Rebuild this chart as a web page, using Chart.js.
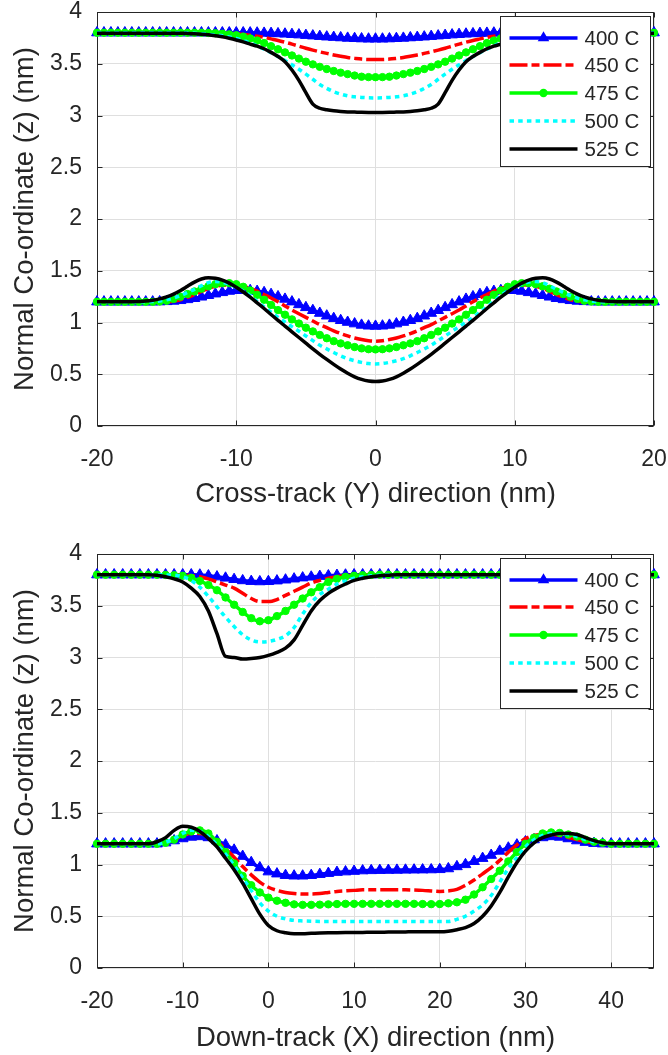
<!DOCTYPE html>
<html><head><meta charset="utf-8">
<script src="https://cdn.jsdelivr.net/npm/chart.js@4.4.0/dist/chart.umd.min.js"></script>
<style>
html,body{margin:0;padding:0;background:#fff;width:668px;height:1055px;overflow:hidden;}
canvas{position:absolute;left:0;display:block;}
#c1{top:0;}
#c2{top:511px;}
</style></head><body>
<canvas id="c1" width="668" height="511"></canvas>
<canvas id="c2" width="668" height="544"></canvas>
<script>
// ---------- DATA ----------
const labels = ['400 C','450 C','475 C','500 C','525 C'];
const yTicks = [0,0.5,1,1.5,2,2.5,3,3.5,4];
const crossTicks = [-20,-10,0,10,20];
const downTicks = [-20,-10,0,10,20,30,40];

// Cross-track (Y) positions, nm
const crossX = [-20,-19.5,-19,-18.5,-18,-17.5,-17,-16.5,-16,-15.5,-15,-14.5,-14,-13.5,-13,-12.5,-12,-11.5,-11,-10.5,-10,-9.5,-9,-8.5,-8,-7.5,-7,-6.5,-6,-5.5,-5,-4.5,-4,-3.5,-3,-2.5,-2,-1.5,-1,-0.5,0,0.5,1,1.5,2,2.5,3,3.5,4,4.5,5,5.5,6,6.5,7,7.5,8,8.5,9,9.5,10,10.5,11,11.5,12,12.5,13,13.5,14,14.5,15,15.5,16,16.5,17,17.5,18,18.5,19,19.5,20];

// upper surface, cross-track
const cross400U = [3.8,3.8,3.8,3.8,3.8,3.8,3.8,3.8,3.8,3.8,3.8,3.8,3.8,3.8,3.8,3.8,3.8,3.8,3.8,3.8,3.8,3.8,
3.799,3.798,3.796,3.794,3.791,3.788,3.784,3.78,3.775,3.77,3.765,3.76,3.756,3.752,3.748,3.745,3.742,3.74,
3.74,3.74,3.742,3.745,3.748,3.752,3.756,3.76,3.765,3.77,3.775,3.78,3.784,3.788,3.791,3.794,3.796,3.798,3.799,
3.8,3.8,3.8,3.8,3.8,3.8,3.8,3.8,3.8,3.8,3.8,3.8,3.8,3.8,3.8,3.8,3.8,3.8,3.8,3.8,3.8,3.8];
const cross450U = [3.8,3.8,3.8,3.8,3.8,3.8,3.8,3.8,3.8,3.8,3.8,3.8,3.8,3.8,3.8,3.8,3.8,3.8,
3.798,3.795,3.79,3.783,3.775,3.766,3.755,3.74,3.725,3.708,3.69,3.67,3.65,3.632,3.615,3.6,3.585,3.572,3.56,3.552,3.545,3.541,
3.54,3.541,3.545,3.552,3.56,3.572,3.585,3.6,3.615,3.632,3.65,3.67,3.69,3.708,3.725,3.74,3.755,3.766,3.775,3.783,3.79,3.795,3.798,
3.8,3.8,3.8,3.8,3.8,3.8,3.8,3.8,3.8,3.8,3.8,3.8,3.8,3.8,3.8,3.8,3.8,3.8];
const cross475U = [3.8,3.8,3.8,3.8,3.8,3.8,3.8,3.8,3.8,3.8,3.8,3.8,3.8,3.8,3.8,3.8,
3.798,3.795,3.79,3.784,3.775,3.762,3.745,3.724,3.70,3.67,3.64,3.61,3.58,3.55,3.52,3.494,3.47,3.449,3.43,3.414,3.4,3.386,3.375,3.371,
3.37,3.371,3.375,3.386,3.4,3.414,3.43,3.449,3.47,3.494,3.52,3.55,3.58,3.61,3.64,3.67,3.70,3.724,3.745,3.762,3.775,3.784,3.79,3.795,3.798,
3.8,3.8,3.8,3.8,3.8,3.8,3.8,3.8,3.8,3.8,3.8,3.8,3.8,3.8,3.8,3.8];
const cross500U = [3.8,3.8,3.8,3.8,3.8,3.8,3.8,3.8,3.8,3.8,3.8,3.8,3.8,
3.798,3.795,3.79,3.785,3.778,3.77,3.758,3.745,3.724,3.70,3.672,3.64,3.607,3.57,3.532,3.49,3.447,3.40,3.35,3.30,3.262,3.23,3.207,3.19,3.181,3.175,3.171,
3.17,3.171,3.175,3.181,3.19,3.207,3.23,3.262,3.30,3.35,3.40,3.447,3.49,3.532,3.57,3.607,3.64,3.672,3.70,3.724,3.745,3.758,3.77,3.778,3.785,3.79,3.795,3.798,
3.8,3.8,3.8,3.8,3.8,3.8,3.8,3.8,3.8,3.8,3.8,3.8,3.8];
const cross525U = [3.795,3.795,3.795,3.795,3.795,3.795,3.795,3.795,3.795,3.795,3.795,3.795,3.795,
3.793,3.79,3.786,3.78,3.771,3.76,3.746,3.73,3.712,3.69,3.67,3.645,3.61,3.57,3.52,3.44,3.34,3.22,3.11,3.07,3.055,3.045,3.039,3.035,3.033,3.031,3.03,
3.03,3.03,3.031,3.033,3.035,3.039,3.045,3.055,3.07,3.11,3.22,3.34,3.44,3.52,3.57,3.61,3.645,3.67,3.69,3.712,3.73,3.746,3.76,3.771,3.78,3.786,3.79,3.793,
3.795,3.795,3.795,3.795,3.795,3.795,3.795,3.795,3.795,3.795,3.795,3.795,3.795];

// lower surface, cross-track
const cross400L = [1.2,1.2,1.2,1.2,1.2,1.2,1.2,1.2,1.2,
1.201,1.203,1.207,1.213,1.222,1.233,1.247,1.262,1.277,1.29,1.303,1.31,1.313,1.31,1.302,1.29,1.272,1.25,1.226,1.20,1.173,1.145,1.117,1.09,1.064,1.04,1.02,1.003,0.988,0.975,0.967,
0.965,0.967,0.975,0.988,1.003,1.02,1.04,1.064,1.09,1.117,1.145,1.173,1.20,1.226,1.25,1.272,1.29,1.302,1.31,1.313,1.31,1.303,1.29,1.277,1.262,1.247,1.233,1.222,1.213,1.207,1.203,1.201,
1.2,1.2,1.2,1.2,1.2,1.2,1.2,1.2,1.2];
const cross450L = [1.2,1.2,1.2,1.2,1.2,1.2,1.2,1.2,1.2,1.2,1.2,
1.207,1.22,1.243,1.27,1.30,1.33,1.35,1.36,1.364,1.36,1.348,1.33,1.303,1.27,1.237,1.20,1.16,1.12,1.085,1.05,1.015,0.98,0.95,0.92,0.893,0.87,0.85,0.835,0.824,
0.82,0.824,0.835,0.85,0.87,0.893,0.92,0.95,0.98,1.015,1.05,1.085,1.12,1.16,1.20,1.237,1.27,1.303,1.33,1.348,1.36,1.364,1.36,1.35,1.33,1.30,1.27,1.243,1.22,1.207,
1.2,1.2,1.2,1.2,1.2,1.2,1.2,1.2,1.2,1.2,1.2];
const cross475L = [1.2,1.2,1.2,1.2,1.2,1.2,1.2,1.2,1.2,
1.203,1.21,1.228,1.25,1.275,1.30,1.327,1.35,1.37,1.38,1.38,1.37,1.345,1.31,1.267,1.22,1.17,1.12,1.075,1.03,0.99,0.95,0.914,0.88,0.848,0.82,0.798,0.78,0.763,0.75,0.742,
0.74,0.742,0.75,0.763,0.78,0.798,0.82,0.848,0.88,0.914,0.95,0.99,1.03,1.075,1.12,1.17,1.22,1.267,1.31,1.345,1.37,1.38,1.38,1.37,1.35,1.327,1.30,1.275,1.25,1.228,1.21,1.203,
1.2,1.2,1.2,1.2,1.2,1.2,1.2,1.2,1.2];
const cross500L = [1.2,1.2,1.2,1.2,1.2,1.2,1.2,1.2,
1.202,1.208,1.22,1.237,1.26,1.29,1.32,1.355,1.385,1.395,1.39,1.37,1.34,1.303,1.26,1.205,1.15,1.10,1.05,1.005,0.96,0.915,0.87,0.825,0.78,0.745,0.71,0.678,0.65,0.63,0.615,0.604,
0.60,0.604,0.615,0.63,0.65,0.678,0.71,0.745,0.78,0.825,0.87,0.915,0.96,1.005,1.05,1.10,1.15,1.205,1.26,1.303,1.34,1.37,1.39,1.395,1.385,1.355,1.32,1.29,1.26,1.237,1.22,1.208,1.202,
1.2,1.2,1.2,1.2,1.2,1.2,1.2,1.2];
const cross525L = [1.2,1.2,1.2,1.2,1.2,1.2,
1.203,1.207,1.215,1.228,1.248,1.275,1.31,1.35,1.39,1.42,1.432,1.427,1.41,1.38,1.34,1.295,1.245,1.19,1.135,1.077,1.02,0.965,0.91,0.855,0.80,0.745,0.693,0.643,0.595,0.55,0.51,0.475,0.45,0.435,
0.43,0.435,0.45,0.475,0.51,0.55,0.595,0.643,0.693,0.745,0.80,0.855,0.91,0.965,1.02,1.077,1.135,1.19,1.245,1.295,1.34,1.38,1.41,1.427,1.432,1.42,1.39,1.35,1.31,1.275,1.248,1.228,1.215,1.207,1.203,
1.2,1.2,1.2,1.2,1.2,1.2];

// Down-track (X) positions, nm
const downX = [-20,-19,-18,-17,-16,-15,-14,-13,-12,-11,-10,-9,-8,-7,-6,-5,-4,-3,-2,-1,0,1,2,3,4,5,6,7,8,9,10,11,12,13,14,15,16,17,18,19,20,21,22,23,24,25,26,27,28,29,30,31,32,33,34,35,36,37,38,39,40,41,42,43,44,45];

const down400U = [3.8,3.8,3.8,3.8,3.8,3.8,3.8,3.8,3.8,3.8,3.8,3.8,
3.798,3.79,3.78,3.768,3.755,3.743,3.736,3.733,3.735,3.741,3.75,3.76,3.77,3.778,3.785,3.79,3.795,3.798,
3.8,3.8,3.8,3.8,3.8,3.8,3.8,3.8,3.8,3.8,3.8,3.8,3.8,3.8,3.8,3.8,3.8,3.8,3.8,3.8,3.8,3.8,3.8,3.8,3.8,3.8,3.8,3.8,3.8,3.8,3.8,3.8,3.8,3.8,3.8,3.8];
const down450U = [3.8,3.8,3.8,3.8,3.8,3.8,3.8,3.8,3.8,3.8,
3.798,3.79,3.78,3.76,3.73,3.70,3.67,3.62,3.57,3.54,3.54,3.56,3.60,3.64,3.68,3.72,3.745,3.765,3.78,3.79,3.795,3.798,
3.8,3.8,3.8,3.8,3.8,3.8,3.8,3.8,3.8,3.8,3.8,3.8,3.8,3.8,3.8,3.8,3.8,3.8,3.8,3.8,3.8,3.8,3.8,3.8,3.8,3.8,3.8,3.8,3.8,3.8,3.8,3.8,3.8,3.8];
const down475U = [3.8,3.8,3.8,3.8,3.8,3.8,3.8,3.8,
3.798,3.795,3.79,3.77,3.74,3.70,3.65,3.58,3.51,3.44,3.38,3.35,3.36,3.40,3.45,3.51,3.57,3.63,3.68,3.73,3.76,3.78,3.79,3.795,3.798,
3.8,3.8,3.8,3.8,3.8,3.8,3.8,3.8,3.8,3.8,3.8,3.8,3.8,3.8,3.8,3.8,3.8,3.8,3.8,3.8,3.8,3.8,3.8,3.8,3.8,3.8,3.8,3.8,3.8,3.8,3.8,3.8,3.8];
const down500U = [3.8,3.8,3.8,3.8,3.8,3.8,3.8,3.8,
3.798,3.795,3.78,3.745,3.68,3.59,3.49,3.39,3.30,3.22,3.17,3.15,3.155,3.175,3.21,3.29,3.42,3.53,3.61,3.66,3.71,3.74,3.765,3.78,3.79,3.795,
3.8,3.8,3.8,3.8,3.8,3.8,3.8,3.8,3.8,3.8,3.8,3.8,3.8,3.8,3.8,3.8,3.8,3.8,3.8,3.8,3.8,3.8,3.8,3.8,3.8,3.8,3.8,3.8,3.8,3.8,3.8,3.8];
const down525U = [3.8,3.8,3.8,3.8,3.8,3.8,3.8,
3.795,3.78,3.76,3.73,3.67,3.59,3.45,3.23,3.01,3.0,2.985,2.99,3.0,3.02,3.05,3.09,3.17,3.31,3.45,3.55,3.62,3.67,3.71,3.745,3.765,3.78,3.79,3.795,
3.8,3.8,3.8,3.8,3.8,3.8,3.8,3.8,3.8,3.8,3.8,3.8,3.8,3.8,3.8,3.8,3.8,3.8,3.8,3.8,3.8,3.8,3.8,3.8,3.8,3.8,3.8,3.8,3.8,3.8,3.8];

const down400L = [1.2,1.2,1.2,1.2,1.2,1.2,1.2,1.2,
1.21,1.23,1.25,1.265,1.27,1.26,1.23,1.19,1.14,1.08,1.02,0.97,
0.93,0.91,0.895,0.89,0.89,0.895,0.905,0.915,0.925,0.93,0.935,0.94,0.942,0.944,0.945,0.946,0.947,0.948,0.949,0.95,0.952,
0.96,0.98,1.0,1.03,1.06,1.09,1.13,1.16,1.19,1.22,1.24,1.26,1.27,1.265,1.25,1.23,1.215,1.205,
1.2,1.2,1.2,1.2,1.2,1.2,1.2];
const down450L = [1.2,1.2,1.2,1.2,1.2,1.2,1.2,1.2,
1.21,1.24,1.28,1.30,1.30,1.28,1.22,1.15,1.07,0.98,0.90,0.83,
0.78,0.75,0.73,0.72,0.715,0.715,0.72,0.73,0.74,0.745,0.75,0.755,0.755,0.755,0.755,0.755,0.755,0.753,0.75,0.745,0.74,
0.745,0.76,0.80,0.85,0.91,0.97,1.04,1.12,1.19,1.25,1.28,1.29,1.29,1.28,1.26,1.24,1.22,1.21,
1.2,1.2,1.2,1.2,1.2,1.2,1.2];
const down475L = [1.2,1.2,1.2,1.2,1.2,1.2,1.2,1.2,
1.21,1.24,1.29,1.32,1.33,1.30,1.22,1.12,1.01,0.89,0.80,0.73,
0.68,0.65,0.63,0.615,0.61,0.61,0.612,0.615,0.618,0.62,0.62,0.62,0.62,0.62,0.62,0.62,0.62,0.62,0.618,0.617,0.618,
0.625,0.635,0.66,0.71,0.78,0.86,0.94,1.03,1.12,1.20,1.26,1.30,1.31,1.305,1.29,1.27,1.24,1.22,1.21,
1.2,1.2,1.2,1.2,1.2,1.2];
const down500L = [1.2,1.2,1.2,1.2,1.2,1.2,1.2,1.2,
1.215,1.25,1.30,1.33,1.32,1.27,1.19,1.10,0.99,0.87,0.75,0.63,
0.55,0.50,0.475,0.46,0.455,0.452,0.45,0.45,0.45,0.45,0.45,0.45,0.45,0.45,0.45,0.45,0.45,0.45,0.45,0.45,0.45,0.45,
0.47,0.50,0.55,0.61,0.70,0.83,0.96,1.07,1.17,1.24,1.28,1.30,1.30,1.29,1.27,1.24,1.22,1.21,
1.2,1.2,1.2,1.2,1.2,1.2];
const down525L = [1.2,1.2,1.2,1.2,1.2,1.2,1.2,
1.22,1.26,1.33,1.37,1.36,1.32,1.25,1.17,1.06,0.95,0.82,0.67,0.52,
0.41,0.36,0.34,0.33,0.33,0.335,0.338,0.34,0.341,0.342,0.343,0.344,0.345,0.346,0.347,0.348,0.349,0.35,0.35,0.35,0.35,
0.355,0.37,0.39,0.43,0.50,0.60,0.73,0.88,1.02,1.13,1.21,1.26,1.285,1.30,1.30,1.29,1.26,1.23,1.21,
1.2,1.2,1.2,1.2,1.2,1.2];

// ---------- STYLE ----------
const FONT = "'Liberation Sans', Arial, Helvetica, sans-serif";
const INK = '#262626';
const GRID = '#dfdfdf';
const LW = 3.5;
const seriesStyle = [
  {color:'#0000ff', dash:[],        point:'triangle', r:6.2},
  {color:'#ff0000', dash:[18,4,8,4], point:null, r:0},
  {color:'#00ff00', dash:[],        point:'circle', r:3.7},
  {color:'#00ffff', dash:[4.5,4.2], point:null, r:0},
  {color:'#000000', dash:[],        point:null, r:0}
];

function pts(xs, ys){ return xs.map((x,i)=>({x:x, y:ys[i]})); }

function buildDatasets(xs, uppers, lowers){
  const ds = [];
  for (let k=0;k<5;k++){
    const s = seriesStyle[k];
    [uppers[k], lowers[k]].forEach(arr=>{
      ds.push({
        label: labels[k],
        data: pts(xs, arr),
        borderColor: s.color,
        backgroundColor: s.color,
        borderWidth: LW,
        borderDash: s.dash,
        borderCapStyle: 'butt',
        borderJoinStyle: 'round',
        pointStyle: s.point || 'circle',
        pointRadius: s.point ? s.r : 0,
        pointBorderWidth: 1,
        pointBackgroundColor: s.color,
        pointBorderColor: s.color,
        cubicInterpolationMode: 'monotone',
        fill: false,
        clip: false,
        order: 5 - k
      });
    });
  }
  return ds;
}

const framePlugin = {
  id: 'frame',
  beforeDatasetsDraw(chart){
    const {ctx, chartArea:a, scales} = chart;
    const L = Math.round(a.left)+0.5, R = Math.round(a.right)-0.5;
    const T = Math.round(a.top)+0.5, B = Math.round(a.bottom)-0.5;
    ctx.save();
    ctx.strokeStyle = INK; ctx.lineWidth = 1; ctx.setLineDash([]);
    ctx.strokeRect(L, T, R-L, B-T);
    ctx.beginPath();
    scales.x.ticks.forEach(t=>{
      const px = Math.round(scales.x.getPixelForValue(t.value))+0.5;
      ctx.moveTo(px, B); ctx.lineTo(px, B-5);
      ctx.moveTo(px, T); ctx.lineTo(px, T+5);
    });
    scales.y.ticks.forEach(t=>{
      const py = Math.round(scales.y.getPixelForValue(t.value))+0.5;
      ctx.moveTo(L, py); ctx.lineTo(L+5, py);
      ctx.moveTo(R, py); ctx.lineTo(R-5, py);
    });
    ctx.stroke();
    ctx.restore();
  }
};

const legendPlugin = {
  id: 'boxLegend',
  afterDatasetsDraw(chart){
    const {ctx, chartArea:a} = chart;
    const bx = Math.round(a.right) - 154 + 0.5, by = Math.round(a.top) + 4 + 0.5;
    const bw = 150, bh = 150;
    ctx.save();
    ctx.fillStyle = '#fff'; ctx.fillRect(bx, by, bw, bh);
    ctx.strokeStyle = INK; ctx.lineWidth = 1; ctx.setLineDash([]);
    ctx.strokeRect(bx, by, bw, bh);
    for (let k=0;k<5;k++){
      const s = seriesStyle[k];
      const yy = Math.round(by + 21 + 27.8*k);
      ctx.beginPath();
      ctx.setLineDash(s.dash); ctx.lineCap = 'butt';
      ctx.strokeStyle = s.color; ctx.lineWidth = LW;
      ctx.moveTo(bx+9, yy); ctx.lineTo(bx+77, yy); ctx.stroke();
      ctx.setLineDash([]);
      ctx.fillStyle = s.color;
      const mx = bx + 43;
      if (s.point === 'triangle'){
        const r = s.r + 0.5;
        ctx.beginPath();
        ctx.moveTo(mx, yy - r);
        ctx.lineTo(mx + r*Math.sin(Math.PI*2/3), yy - r*Math.cos(Math.PI*2/3));
        ctx.lineTo(mx - r*Math.sin(Math.PI*2/3), yy - r*Math.cos(Math.PI*2/3));
        ctx.closePath(); ctx.fill();
      } else if (s.point === 'circle'){
        ctx.beginPath(); ctx.arc(mx, yy, s.r + 0.5, 0, Math.PI*2); ctx.fill();
      }
      ctx.fillStyle = INK;
      ctx.font = '20.5px ' + FONT;
      ctx.textAlign = 'left'; ctx.textBaseline = 'middle';
      ctx.fillText(labels[k], bx + 84, yy + 1);
    }
    ctx.restore();
  }
};

function makeChart(id, xs, uppers, lowers, xmin, xmax, xticks, xTitle, padTop, plotBottom, H){
  return new Chart(document.getElementById(id), {
    type: 'line',
    data: { datasets: buildDatasets(xs, uppers, lowers) },
    options: {
      responsive: false, animation: false, events: [],
      layout: { padding: { top: padTop, right: 14, left: 0, bottom: 0 } },
      plugins: { legend: { display: false }, tooltip: { enabled: false } },
      scales: {
        x: {
          type: 'linear', min: xmin, max: xmax,
          afterBuildTicks: s => { s.ticks = xticks.map(v => ({ value: v })); },
          afterFit: s => { s.height = H - plotBottom; s.paddingLeft = 0; s.paddingRight = 0; },
          ticks: { font: { family: FONT, size: 23 }, color: INK, padding: 20, maxRotation: 0, autoSkip: false, callback: v => String(v) },
          grid: { color: GRID, lineWidth: 1, drawTicks: false },
          border: { display: false },
          title: { display: true, text: xTitle, color: INK, font: { family: FONT, size: 27.5 }, padding: { top: 0, bottom: 0.5 } }
        },
        y: {
          type: 'linear', min: 0, max: 4,
          afterBuildTicks: s => { s.ticks = yTicks.map(v => ({ value: v })); },
          afterFit: s => { s.width = 97; s.paddingTop = 0; s.paddingBottom = 0; },
          ticks: { font: { family: FONT, size: 23 }, color: INK, padding: 15, autoSkip: false, callback: v => String(v) },
          grid: { color: GRID, lineWidth: 1, drawTicks: false },
          border: { display: false },
          title: { display: true, text: 'Normal Co-ordinate (z) (nm)', color: INK, font: { family: FONT, size: 27.5 }, padding: { top: 8.5, bottom: 0 } }
        }
      }
    },
    plugins: [framePlugin, legendPlugin]
  });
}

makeChart('c1', crossX,
  [cross400U, cross450U, cross475U, cross500U, cross525U],
  [cross400L, cross450L, cross475L, cross500L, cross525L],
  -20, 20, crossTicks, 'Cross-track (Y) direction (nm)', 12, 426, 511);

makeChart('c2', downX,
  [down400U, down450U, down475U, down500U, down525U],
  [down400L, down450L, down475L, down500L, down525L],
  -20, 45, downTicks, 'Down-track (X) direction (nm)', 43, 457, 544);
</script>
</body></html>
